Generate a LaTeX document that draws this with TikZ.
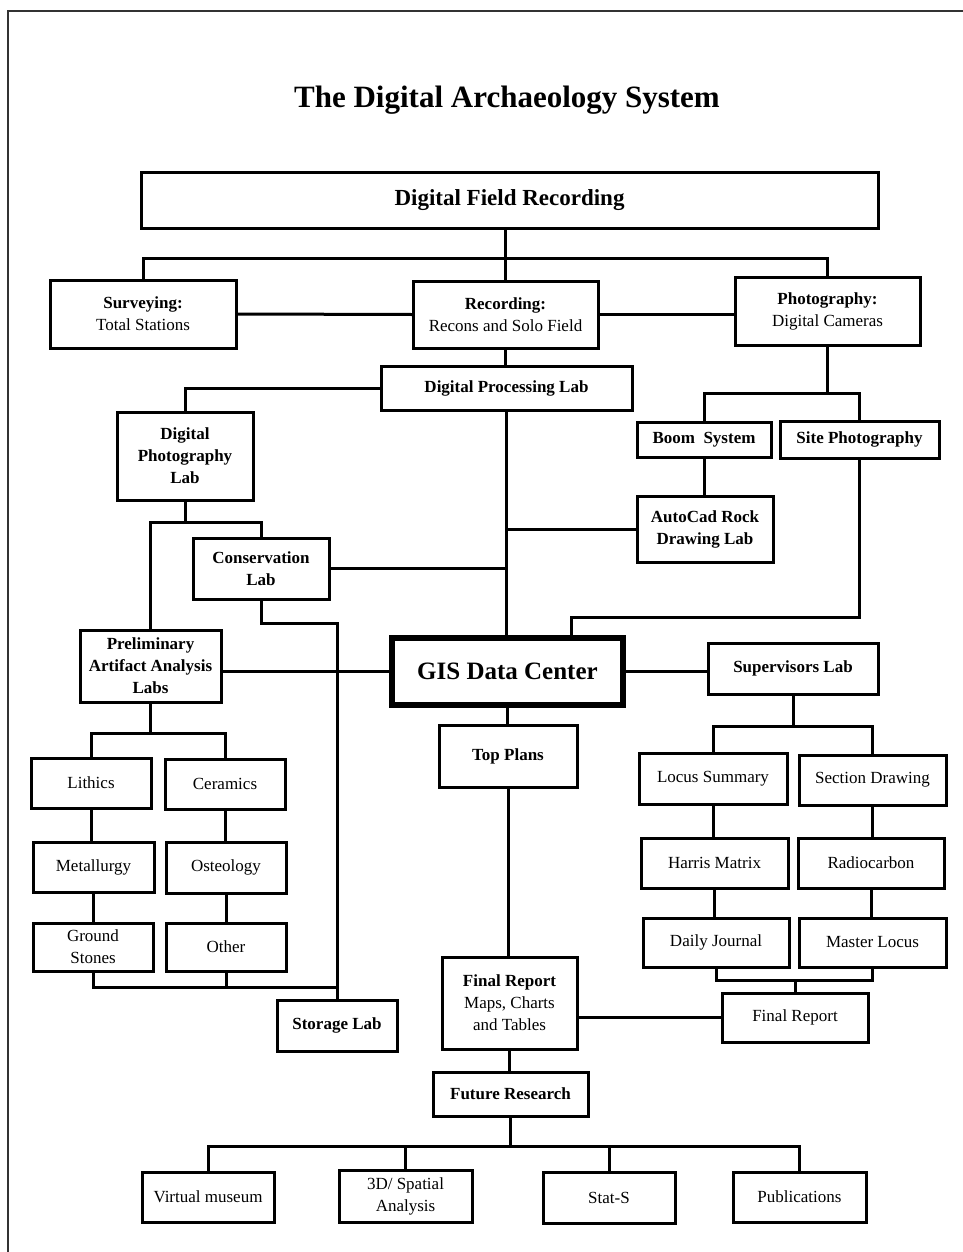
\documentclass[tikz,border=0pt]{standalone}
\usepackage{fontspec}
\setmainfont{Liberation Serif}
\begin{document}
\begin{tikzpicture}[x=1pt,y=-1pt,
  bx/.style={draw, line width=3pt, inner sep=0pt, align=center, font={\fontsize{17}{22}\selectfont}},
  bb/.style={bx, font={\bfseries\fontsize{17}{22}\selectfont}},
  wire/.style={line width=3pt, line cap=rect},
  frame/.style={line width=2pt, draw=black!80}]
\newcommand\mybox[7]{\node[#6, minimum width={(#4-#2)*1pt}, minimum height={(#5-#3)*1pt}] (#1) at ({(#2+#4)/2},{(#3+#5)/2}) {#7};}
\useasboundingbox (0,0) rectangle (963,1252);
\fill[white] (0,0) rectangle (963,1252);
% page frame
\coordinate (fbl) at (8,1252);
\coordinate (ftl) at (8,11);
\coordinate (ftr) at (963,11);
\draw[frame] (fbl) -- (ftl) -- (ftr);
% title
\node[font={\bfseries\fontsize{31}{36}\selectfont}] (title) at (507,100) {The Digital Archaeology System};
% boxes
\mybox{dfr}{141}{173}{878}{228}{bx, font={\bfseries\fontsize{23}{28}\selectfont}}{Digital Field Recording}
\mybox{surv}{50}{280}{236}{348}{bx}{\textbf{Surveying:}\\Total Stations}
\mybox{rec}{413}{281}{598}{348}{bx}{\textbf{Recording:}\\Recons and Solo Field}
\mybox{photo}{735}{277}{920}{345}{bx}{\textbf{Photography:}\\Digital Cameras}
\mybox{dpl}{381}{366}{632}{410}{bb}{Digital Processing Lab}
\mybox{dplab}{117}{412}{253}{500}{bb}{Digital\\Photography\\Lab}
\mybox{boom}{637}{422}{771}{457}{bb}{Boom\ \ System}
\mybox{site}{780}{421}{939}{458}{bb}{Site Photography}
\mybox{acad}{637}{496}{773}{562}{bb}{AutoCad Rock\\Drawing Lab}
\mybox{cons}{193}{538}{329}{599}{bb}{Conservation\\Lab}
\mybox{prelim}{80}{630}{221}{702}{bb}{Preliminary\\Artifact Analysis\\Labs}
\mybox{gis}{392}{638}{623}{705}{bx, line width=6.5pt, font={\bfseries\fontsize{25}{30}\selectfont}}{GIS Data Center}
\mybox{sup}{708}{643}{878}{694}{bb}{Supervisors Lab}
\mybox{top}{439}{725}{577}{787}{bb}{Top Plans}
\mybox{lith}{31}{758}{151}{808}{bx}{Lithics}
\mybox{cera}{165}{759}{285}{809}{bx}{Ceramics}
\mybox{metal}{33}{842}{154}{892}{bx}{Metallurgy}
\mybox{osteo}{166}{842}{286}{893}{bx}{Osteology}
\mybox{ground}{33}{923}{153}{971}{bx}{Ground\\Stones}
\mybox{other}{166}{923}{286}{971}{bx}{Other}
\mybox{store}{277}{1000}{397}{1051}{bb}{Storage Lab}
\mybox{locus}{639}{753}{787}{804}{bx}{Locus Summary}
\mybox{sect}{799}{755}{946}{805}{bx}{Section Drawing}
\mybox{harris}{641}{838}{788}{888}{bx}{Harris Matrix}
\mybox{radio}{798}{838}{944}{888}{bx}{Radiocarbon}
\mybox{daily}{643}{918}{789}{967}{bx}{Daily Journal}
\mybox{master}{799}{918}{946}{967}{bx}{Master Locus}
\mybox{finalm}{442}{957}{577}{1049}{bx}{\textbf{Final Report}\\Maps, Charts\\and Tables}
\mybox{finalr}{722}{993}{868}{1042}{bx}{Final Report}
\mybox{future}{433}{1072}{588}{1116}{bb}{Future Research}
\mybox{vm}{142}{1172}{274}{1222}{bx}{Virtual museum}
\mybox{spat}{339}{1170}{472}{1222}{bx}{3D/ Spatial\\Analysis}
\mybox{stat}{543}{1172}{675}{1223}{bx}{Stat-S}
\mybox{pub}{733}{1172}{866}{1222}{bx}{Publications}
% bus levels
\coordinate (b1) at (0,258);
\coordinate (b2) at (0,393);
\coordinate (b3) at (571,617);
\coordinate (b4) at (0,522);
\coordinate (b5) at (0,623);
\coordinate (b6) at (0,733);
\coordinate (b7) at (0,987);
\coordinate (b8) at (0,1146);
\coordinate (b9) at (0,726);
\coordinate (b10) at (0,980);
% connectors
\draw[wire] (rec.north |- dfr.south) -- (rec.north);
\draw[wire] (surv.north) |- (photo.north |- b1) -- (photo.north);
\draw[wire] (surv.east) -- (rec.west);
\draw[wire] (rec.east) -- (rec.east -| photo.west);
\draw[wire] (rec.south) -- (rec.south |- dpl.north);
\draw[wire] (dpl.west) -| (dplab.north);
\draw[wire] (dpl.south) -- (dpl.south |- gis.north);
\draw[wire] (photo.south) -- (photo.south |- b2);
\draw[wire] (boom.north) |- (site.north |- b2) -- (site.north);
\draw[wire] (boom.south) -- (boom.south |- acad.north);
\draw[wire] (acad.west) -- (acad.west -| dpl.south);
\draw[wire] (cons.east) -- (cons.east -| dpl.south);
\draw[wire] (site.south) |- (b3) -- (b3 |- gis.north);
\draw[wire] (dplab.south) -- (dplab.south |- b4);
\draw[wire] (prelim.north) |- (cons.north |- b4) -- (cons.north);
\draw[wire] (cons.south) |- (store.north |- b5) -- (store.north);
\draw[wire] (gis.west -| prelim.east) -- (gis.west);
\draw[wire] (prelim.south) -- (prelim.south |- b6);
\draw[wire] (lith.north) |- (cera.north |- b6) -- (cera.north);
\draw[wire] (lith.south) -- (lith.south |- metal.north);
\draw[wire] (cera.south) -- (cera.south |- osteo.north);
\draw[wire] (metal.south) -- (metal.south |- ground.north);
\draw[wire] (osteo.south) -- (osteo.south |- other.north);
\draw[wire] (ground.south) |- (store.north |- b7);
\draw[wire] (other.south) -- (other.south |- b7);
\draw[wire] (gis.south) -- (gis.south |- top.north);
\draw[wire] (top.south) -- (top.south |- finalm.north);
\draw[wire] (finalr.west -| finalm.east) -- (finalr.west);
\draw[wire] (finalm.south) -- (finalm.south |- future.north);
\draw[wire] (future.south) -- (future.south |- b8);
\draw[wire] (vm.north) |- (pub.north |- b8) -- (pub.north);
\draw[wire] (spat.north) -- (spat.north |- b8);
\draw[wire] (stat.north) -- (stat.north |- b8);
\draw[wire] (gis.east) -- (gis.east -| sup.west);
\draw[wire] (sup.south) -- (sup.south |- b9);
\draw[wire] (locus.north) |- (sect.north |- b9) -- (sect.north);
\draw[wire] (locus.south) -- (locus.south |- harris.north);
\draw[wire] (sect.south) -- (sect.south |- radio.north);
\draw[wire] (harris.south) -- (harris.south |- daily.north);
\draw[wire] (radio.south) -- (radio.south |- master.north);
\draw[wire] (daily.south) |- (master.south |- b10) -- (master.south);
\draw[wire] (finalr.north) -- (finalr.north |- b10);
\end{tikzpicture}
\end{document}
